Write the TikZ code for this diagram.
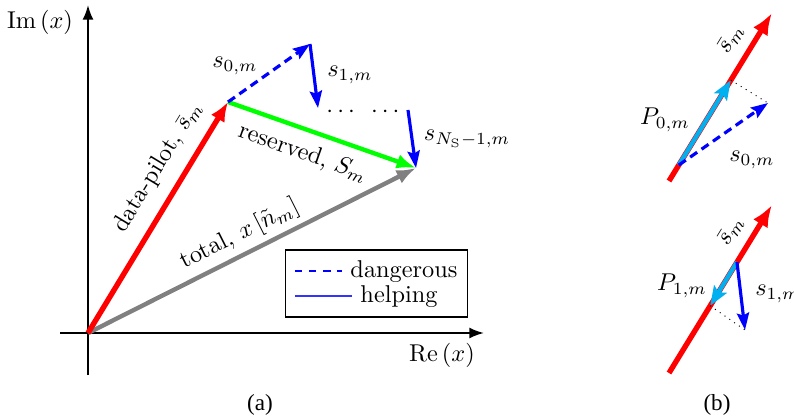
\documentclass[tikz,border=0pt]{standalone}
\usepackage{amsmath,amssymb}
\usepackage{fontspec}
\newfontfamily\capfont{Liberation Serif}
\usepackage{tikz}
\usetikzlibrary{arrows.meta, positioning, calc}
\definecolor{pilotred}{RGB}{255,0,0}
\definecolor{toneblue}{RGB}{0,0,255}
\definecolor{resgreen}{RGB}{0,255,0}
\definecolor{totalgray}{RGB}{128,128,128}
\definecolor{projcyan}{RGB}{0,176,240}

\begin{document}
\begin{tikzpicture}[x=0.01445cm, y=-0.01445cm,
  axis/.style={line width=0.8pt, -{Latex[length=6pt,width=4.5pt]}},
  pilot/.style={pilotred, line width=2.2pt, -{Latex[length=8pt,width=6.5pt]}},
  tone/.style={toneblue, line width=1.3pt, -{Stealth[length=7pt,width=5pt,inset=1pt]}},
  proj/.style={projcyan, line width=1.8pt, -{Stealth[length=8pt,width=6pt,inset=1.5pt]}},
  proof/.style={dotted, line width=0.4pt},
  caption/.style={font=\capfont\fontsize{9.5}{11}\selectfont}]
  \useasboundingbox (0,0) rectangle (794,419);

  % (a): axes
  \coordinate (O) at (88,333);
  \coordinate (xl) at (60,333);  \coordinate (xr) at (484,333);
  \coordinate (yb) at (88,375);  \coordinate (yt) at (88,5);
  \draw[axis] (xl) -- (xr);
  \draw[axis] (yb) -- (yt);
  \node (relbl) at (442,355) {$\mathrm{Re}\left(x\right)$};
  \node (imlbl) at (40,22) {$\mathrm{Im}\left(x\right)$};

  % (a): tones
  \coordinate (A) at (228,102);
  \coordinate (B) at (310,44);
  \coordinate (C) at (318,108);
  \coordinate (D) at (408,110);
  \coordinate (E) at (416,168);
  \draw[line width=1.8pt, totalgray, -{Latex[length=8pt,width=6pt]}] (O) -- (E)
    node[pos=0.49, sloped, above=-1pt, text=black] (totlbl) {total, $x\left[\tilde{n}_m\right]$};
  \draw[line width=1.8pt, resgreen, -{Latex[length=8pt,width=6pt]}] (A) -- (E)
    node[pos=0.44, sloped, below=1pt, text=black] (reslbl) {reserved, $S_m$};
  \draw[pilot] (O) -- (A)
    node[pos=0.66, sloped, above=2pt, text=black] (pillbl) {data-pilot, $\bar{s}_m$};
  \draw[tone, dash pattern=on 3.5pt off 2.2pt] (A) -- (B);
  \draw[tone] (B) -- (C);
  \draw[tone] (D) -- (E);
  \node (dots) at (365,112) {$\cdots\hspace{0.5em}\cdots$};
  \node (s0lbl) at (235,66) {$s_{0,m}$};
  \node (s1lbl) at (350,75) {$s_{1,m}$};
  \node (sNlbl) at (467,139) {$s_{N_\mathrm{S}-1,m}$};

  % (a): legend
  \node[draw, line width=0.6pt, minimum width=75pt, minimum height=27.5pt] (legend) at (376.5,283.5) {};
  \coordinate (l1a) at (295,271); \coordinate (l1b) at (342,271);
  \coordinate (l2a) at (295,296); \coordinate (l2b) at (352,296);
  \draw[toneblue, line width=1.2pt, dash pattern=on 3pt off 2.8pt] (l1a) -- (l1b);
  \draw[toneblue!80, line width=0.5pt] (l2a) -- (l2b);
  \node[anchor=base west, inner sep=0pt] (dangtxt) at (350,277) {dangerous};
  \node[anchor=base west, inner sep=0pt] (helptxt) at (360,302) {helping};
  \node[caption] (capa) at (260,405) {(a)};

  % (b): dangerous tone
  \coordinate (R1) at (669,181);  \coordinate (R2) at (772,13);
  \coordinate (P) at ($(R1)!0.095!(R2)$);
  \coordinate (Q) at ($(R1)!0.60!(R2)$);
  \coordinate (S) at (768,103);
  \draw[pilot, -{Latex[length=9pt,width=7pt]}] (R1) -- (R2);
  \draw[proj] (P) -- (Q);
  \draw[tone, dash pattern=on 3.5pt off 2.2pt] (P) -- (S);
  \draw[proof] (Q) -- (S);
  \node[rotate=58.5] (sb1) at (731,39) {$\bar{s}_m$};
  \node (p0lbl) at (665,120) {$P_{0,m}$};
  \node (s0blbl) at (752,160) {$s_{0,m}$};

  % (b): helping tone
  \coordinate (R3) at (669,373);  \coordinate (R4) at (772,205);
  \coordinate (F) at ($(R3)!0.66!(R4)$);
  \coordinate (G) at ($(R3)!0.40!(R4)$);
  \coordinate (H) at (745,330);
  \draw[pilot, -{Latex[length=9pt,width=7pt]}] (R3) -- (R4);
  \draw[proj] (F) -- (G);
  \draw[tone] (F) -- (H);
  \draw[proof] (G) -- (H);
  \node[rotate=58.5] (sb2) at (731,231) {$\bar{s}_m$};
  \node (p1lbl) at (682,286) {$P_{1,m}$};
  \node (s1blbl) at (778,294) {$s_{1,m}$};
  \node[caption] (capb) at (717,405) {(b)};
\end{tikzpicture}
\end{document}
